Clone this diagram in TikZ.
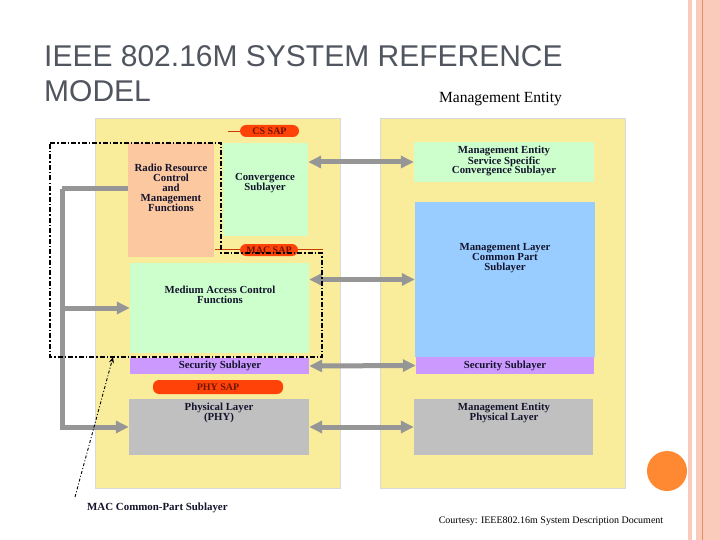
\documentclass[tikz,border=0pt]{standalone}
\usepackage{fontspec}
\setmainfont{Liberation Serif}
\newfontfamily\titlefont{Liberation Sans}
\usetikzlibrary{arrows.meta,positioning,calc}

\definecolor{panelyel}{RGB}{249,237,156}
\definecolor{rrcorange}{RGB}{252,200,160}
\definecolor{lgreen}{RGB}{204,255,204}
\definecolor{lblue}{RGB}{153,204,255}
\definecolor{lpurple}{RGB}{204,153,255}
\definecolor{lgray}{RGB}{192,192,192}
\definecolor{sapred}{RGB}{255,66,8}
\definecolor{saptext}{RGB}{110,20,0}
\definecolor{sapline}{RGB}{200,60,0}
\definecolor{conngray}{RGB}{150,150,150}
\definecolor{titlegray}{RGB}{80,85,95}
\definecolor{stripe}{RGB}{250,202,186}
\definecolor{stripeline}{RGB}{232,140,100}
\definecolor{dotorange}{RGB}{255,136,51}
\definecolor{boxtext}{RGB}{20,20,45}

\begin{document}
\begin{tikzpicture}[
      x=1pt, y=-1pt,
      panel/.style={draw=black!15, fill=panelyel, line width=0.6pt,
                    minimum width=245pt, minimum height=370pt, inner sep=0pt},
      layer/.style={fill=#1, inner sep=0pt},
      sap/.style={fill=sapred, rounded corners=6pt, inner sep=0pt,
                  text=saptext, font=\fontsize{10}{10}\selectfont\bfseries},
      txt/.style={text=boxtext, align=center, inner sep=0pt,
                  font=\fontsize{10.8}{9.9}\selectfont\bfseries},
      conn/.style={draw=conngray, line width=5pt,
                   -{Triangle[length=13pt,width=12pt]}},
      dbl/.style={draw=conngray, line width=5pt,
                  {Triangle[length=13pt,width=12pt]}-{Triangle[length=13pt,width=12pt]}},
      region/.style={draw=black, line width=1.6pt,
                     dash pattern=on 5pt off 2pt on 1.5pt off 2pt}
    ]
    \useasboundingbox (0,0) rectangle (720,540);
    \fill[white] (0,0) rectangle (720,540);
    \fill[stripe] (688,0) rectangle (692,540);
    \fill[stripe] (696,0) rectangle (720,540);
    \draw[stripeline, line width=1pt] (702.5,0) -- (702.5,540);
    \fill[dotorange] (667,471) circle (20);

    \node[anchor=base west, inner sep=0pt, text=titlegray,
          font=\titlefont\fontsize{30}{35}\selectfont] (title) at (44,67)
          {IEEE 802.16M SYSTEM REFERENCE};
    \node[anchor=base west, inner sep=0pt, text=titlegray,
          font=\titlefont\fontsize{30}{35}\selectfont] (title2) at (44,102) {MODEL};
    \node[anchor=base, inner sep=0pt, font=\fontsize{15.5}{16}\selectfont]
          (metitle) at (500.5,103) {Management Entity};

    \node[panel] (left)  at (217.5,303) {};
    \node[panel] (right) at (502.5,303) {};

    \node[layer=rrcorange, minimum width=86pt,  minimum height=114pt] (rrc)  at (171,200) {};
    \node[layer=lgreen,    minimum width=85pt,  minimum height=93pt]  (conv) at (265.5,189.5) {};
    \node[layer=lgreen,    minimum width=179pt, minimum height=90pt]  (mac)  at (219.5,308) {};
    \node[layer=lpurple,   minimum width=179pt, minimum height=16pt]  (sec)  at (219.5,366) {};
    \node[layer=lgray,     minimum width=180pt, minimum height=56pt]  (phy)  at (219,427) {};

    \node[layer=lgreen,  minimum width=180pt, minimum height=40pt]  (mesc)  at (504,162) {};
    \node[layer=lblue,   minimum width=180pt, minimum height=155pt] (mlcps) at (505,279.5) {};
    \node[layer=lpurple, minimum width=178pt, minimum height=17pt]  (msec)  at (505,365.5) {};
    \node[layer=lgray,   minimum width=179pt, minimum height=56pt]  (mphy)  at (503.5,427) {};

    \coordinate (cstail) at (228,131);
    \coordinate (macl) at (215,249);
    \coordinate (macr) at (323,249);
    \draw[sapline, line width=0.8pt] (macl) -- (macr);
    \node[sap, minimum width=59pt, minimum height=12pt] (cssap)  at (269.5,131) {CS SAP};
    \node[sap, minimum width=58pt, minimum height=12pt] (macsap) at (269,250) {MAC SAP};
    \node[sap, minimum width=130pt, minimum height=14pt] (physap) at (218,387) {PHY SAP};
    \draw[sapline, line width=0.8pt] (cstail) -- (cssap.west);

    \node[txt] (trrc)  at (171,188)   {Radio Resource\\Control\\and\\Management\\Functions};
    \node[txt] (tconv) at (265,183)   {Convergence\\Sublayer};
    \node[txt] (tmac)  at (220,295)   {Medium Access Control\\Functions};
    \node[txt] (tsec)  at (220,366)   {Security Sublayer};
    \node[txt] (tphy)  at (219,413)   {Physical Layer\\(PHY)};
    \node[txt] (tmesc) at (504,161)   {Management Entity\\Service Specific\\Convergence Sublayer};
    \node[txt] (tmlc)  at (505,258)   {Management Layer\\Common Part\\Sublayer};
    \node[txt] (tmsec) at (505,365.5) {Security Sublayer};
    \node[txt] (tmphy) at (504,413)   {Management Entity\\Physical Layer};

    \coordinate (bus) at (62,189);
    \draw[draw=conngray, line width=5pt] (rrc.west |- bus) -- (bus);
    \draw[conn] (bus) |- (phy.west);
    \draw[conn] (bus |- mac.west) -- (mac.west);

    \draw[dbl] (conv.east |- mesc.west) -- (mesc.west);
    \draw[dbl] (mac.east |- mlcps.west) -- (mlcps.west);
    \draw[dbl] (sec.east) -- (msec.west);
    \draw[dbl] (phy.east) -- (mphy.west);

    \coordinate (cp1) at (50,143);
    \coordinate (cp2) at (221,143);
    \coordinate (cp3) at (221,253);
    \coordinate (cp4) at (322,253);
    \coordinate (cp5) at (322,357);
    \coordinate (cp6) at (50,357);
    \draw[region] (cp1) -- (cp2) -- (cp3) -- (cp4) -- (cp5) -- (cp6) -- cycle;

    \node[anchor=base west, inner sep=0pt, text=boxtext,
          font=\fontsize{10.9}{11}\selectfont\bfseries] (cplabel) at (87,510)
          {MAC Common-Part Sublayer};
    \coordinate (cpfoot) at (75,497);
    \coordinate (cptip) at (113,357);
    \draw[black, line width=0.9pt, dash pattern=on 3pt off 2pt on 1pt off 2pt,
          -{Stealth[length=6pt,width=5pt]}] (cpfoot) -- (cptip);

    \node[anchor=base, inner sep=0pt, font=\fontsize{10}{11}\selectfont]
          (courtesy) at (551,523) {Courtesy: IEEE802.16m System Description Document};
  \end{tikzpicture}
\end{document}
